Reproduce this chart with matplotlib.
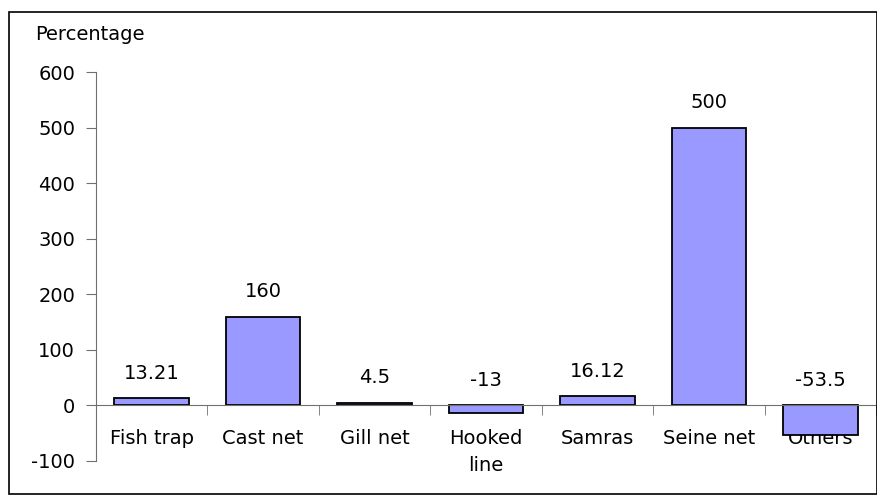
import matplotlib.pyplot as plt
from matplotlib.patches import Rectangle

# dados
categorias = ['Fish trap', 'Cast net', 'Gill net', 'Hooked\nline', 'Samras', 'Seine net', 'Others']
valores = [13.21, 160, 4.5, -13, 16.12, 500, -53.5]
rotulos = ['13.21', '160', '4.5', '-13', '16.12', '500', '-53.5']
yticks = [-100, 0, 100, 200, 300, 400, 500, 600]

plt.rcParams['font.family'] = 'DejaVu Sans'
plt.rcParams['font.size'] = 14
plt.rcParams['axes.unicode_minus'] = False

fig = plt.figure(figsize=(8.78, 4.95), dpi=100)
ax = fig.add_axes([96 / 878, 1 - 461 / 495, 780 / 878, 389 / 495])

# moldura externa
fig.patches.append(Rectangle((9 / 878, 1 - 494 / 495), 868 / 878, 482 / 495,
                             transform=fig.transFigure, fill=False,
                             edgecolor='black', linewidth=1.2))

x = range(len(categorias))
ax.bar(x, valores, width=0.67, color='#9999FF', edgecolor='black', linewidth=1.3, zorder=2)

for i, (v, r) in enumerate(zip(valores, rotulos)):
    ax.annotate(r, (i, max(v, 0)), xytext=(0, 18), textcoords='offset points',
                ha='center', va='center')

ax.set_xlim(-0.5, len(categorias) - 0.5)
ax.set_ylim(-100, 600)
ax.set_yticks(yticks)

for s in ['top', 'right']:
    ax.spines[s].set_visible(False)
ax.spines['left'].set_color('#707070')
ax.spines['bottom'].set_color('#707070')
ax.spines['bottom'].set_position(('data', 0))
ax.spines['bottom'].set_zorder(4)

ax.set_xticks(list(x))
ax.set_xticklabels(categorias, linespacing=1.55)
ax.set_xticks([i - 0.5 for i in range(len(categorias) + 1)], minor=True)
ax.tick_params(axis='x', which='major', length=0, pad=17)
ax.tick_params(axis='x', which='minor', length=7, color='#707070', direction='out')
ax.tick_params(axis='y', length=7, color='#707070', pad=8)

fig.text(35 / 878, 1 - 34 / 495, 'Percentage', ha='left', va='center')

fig.savefig('out.png', dpi=100)
